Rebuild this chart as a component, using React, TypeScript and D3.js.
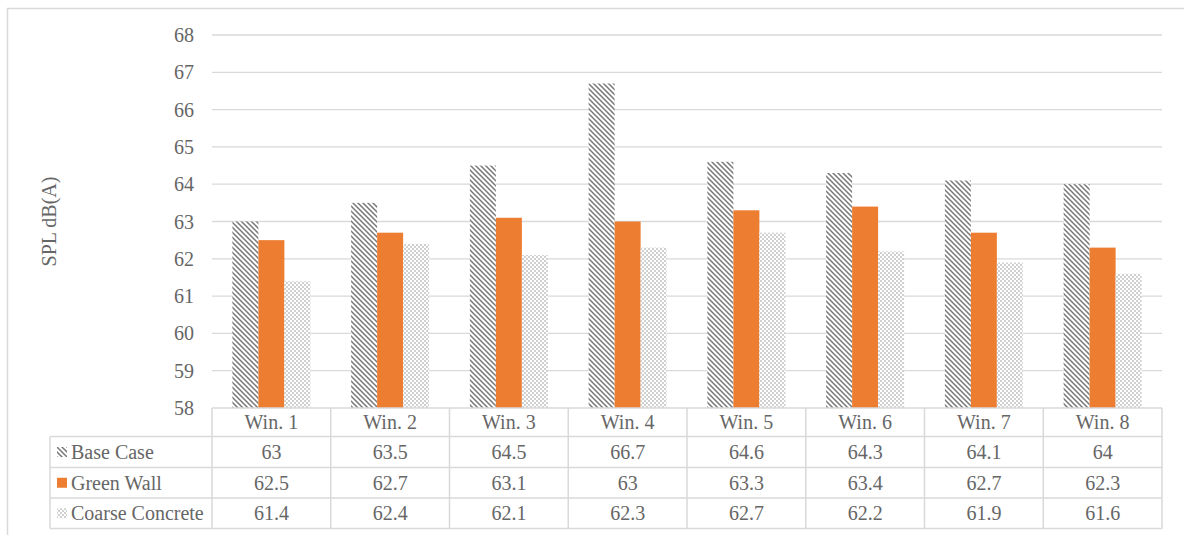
import React from "react";
import * as d3 from "d3";

const categories = ["Win. 1", "Win. 2", "Win. 3", "Win. 4", "Win. 5", "Win. 6", "Win. 7", "Win. 8"];
const baseCase = [63, 63.5, 64.5, 66.7, 64.6, 64.3, 64.1, 64];
const greenWall = [62.5, 62.7, 63.1, 63, 63.3, 63.4, 62.7, 62.3];
const coarseConcrete = [61.4, 62.4, 62.1, 62.3, 62.7, 62.2, 61.9, 61.6];
const seriesNames = ["Base Case", "Green Wall", "Coarse Concrete"];
const yTicks = [58, 59, 60, 61, 62, 63, 64, 65, 66, 67, 68];

const W = 1184;
const H = 535;
const plotLeft = 212;
const plotRight = 1162;
const plotTop = 35;
const plotBottom = 408;
const tableLeft = 50;
const rowLines = [436.5, 467.5, 498, 528.5];
const textColor = "#666666";
const lineColor = "#d9d9d9";
const font = "'Liberation Serif', 'Times New Roman', serif";
const fs = 20;

export default function App() {
  const x = d3.scaleBand<string>().domain(categories).range([plotLeft, plotRight]).paddingInner(0).paddingOuter(0);
  const y = d3.scaleLinear().domain([58, 68]).range([plotBottom, plotTop]);
  const inner = d3.scaleBand<string>().domain(seriesNames).range([0, 78]);
  const groupOffset = (x.bandwidth() - 78) / 2;
  const series = [baseCase, greenWall, coarseConcrete];
  const fills = ["url(#diag)", "#ED7D31", "url(#check)"];

  return (
    <svg width={W} height={H} style={{ position: "absolute", left: 0, top: 0, background: "#fff" }}>
      <defs>
        <pattern id="diag" patternUnits="userSpaceOnUse" width="5" height="5">
          <rect width="5" height="5" fill="#fff" />
          <path d="M-1,-1 L6,6 M-1,4 L1,6 M4,-1 L6,1" stroke="#777777" strokeWidth="1.5" />
        </pattern>
        <pattern id="check" patternUnits="userSpaceOnUse" width="4" height="4">
          <rect width="4" height="4" fill="#fff" />
          <rect x="0" y="0" width="2" height="2" fill="#d0d0d0" />
          <rect x="2" y="2" width="2" height="2" fill="#d0d0d0" />
        </pattern>
      </defs>
      <rect x={7.5} y={8.5} width={W + 10} height={H + 10} fill="none" stroke={lineColor} strokeWidth={1.5} />

      {yTicks.map((t) => (
        <g key={t}>
          {t !== 58 && (
            <line x1={plotLeft} x2={plotRight} y1={y(t)} y2={y(t)} stroke={lineColor} strokeWidth={1.3} />
          )}
          <text x={194} y={y(t)} dy="0.35em" textAnchor="end" fontFamily={font} fontSize={fs} fill={textColor}>
            {t}
          </text>
        </g>
      ))}

      <text
        transform={`translate(56,${(plotTop + plotBottom) / 2}) rotate(-90)`}
        textAnchor="middle"
        fontFamily={font}
        fontSize={fs}
        fill={textColor}
      >
        SPL dB(A)
      </text>

      {series.map((vals, si) =>
        categories.map((c, ci) => (
          <rect
            key={`${si}-${ci}`}
            x={(x(c) as number) + groupOffset + (inner(seriesNames[si]) as number)}
            y={y(vals[ci])}
            width={inner.bandwidth()}
            height={plotBottom - y(vals[ci])}
            fill={fills[si]}
          />
        ))
      )}

      {/* table */}
      <line x1={plotLeft} x2={plotRight} y1={plotBottom} y2={plotBottom} stroke={lineColor} strokeWidth={1.5} />
      {rowLines.map((ry) => (
        <line key={ry} x1={tableLeft} x2={plotRight} y1={ry} y2={ry} stroke={lineColor} strokeWidth={1.5} />
      ))}
      <line x1={tableLeft} x2={tableLeft} y1={rowLines[0]} y2={rowLines[3]} stroke={lineColor} strokeWidth={1.5} />
      {categories.map((c) => (
        <line key={c} x1={x(c)} x2={x(c)} y1={plotBottom} y2={rowLines[3]} stroke={lineColor} strokeWidth={1.5} />
      ))}
      <line x1={plotRight} x2={plotRight} y1={plotBottom} y2={rowLines[3]} stroke={lineColor} strokeWidth={1.5} />

      {categories.map((c) => (
        <text
          key={c}
          x={(x(c) as number) + x.bandwidth() / 2}
          y={(plotBottom + rowLines[0]) / 2}
          dy="0.35em"
          textAnchor="middle"
          fontFamily={font}
          fontSize={fs}
          fill={textColor}
        >
          {c}
        </text>
      ))}

      {series.map((vals, si) => {
        const cy = (rowLines[si] + rowLines[si + 1]) / 2;
        return (
          <g key={si}>
            <rect x={57} y={cy - 5} width={10} height={10} fill={fills[si]} />
            <text x={71} y={cy} dy="0.35em" fontFamily={font} fontSize={fs} fill={textColor}>
              {seriesNames[si]}
            </text>
            {vals.map((v, ci) => (
              <text
                key={ci}
                x={(x(categories[ci]) as number) + x.bandwidth() / 2}
                y={cy}
                dy="0.35em"
                textAnchor="middle"
                fontFamily={font}
                fontSize={fs}
                fill={textColor}
              >
                {v}
              </text>
            ))}
          </g>
        );
      })}
    </svg>
  );
}
